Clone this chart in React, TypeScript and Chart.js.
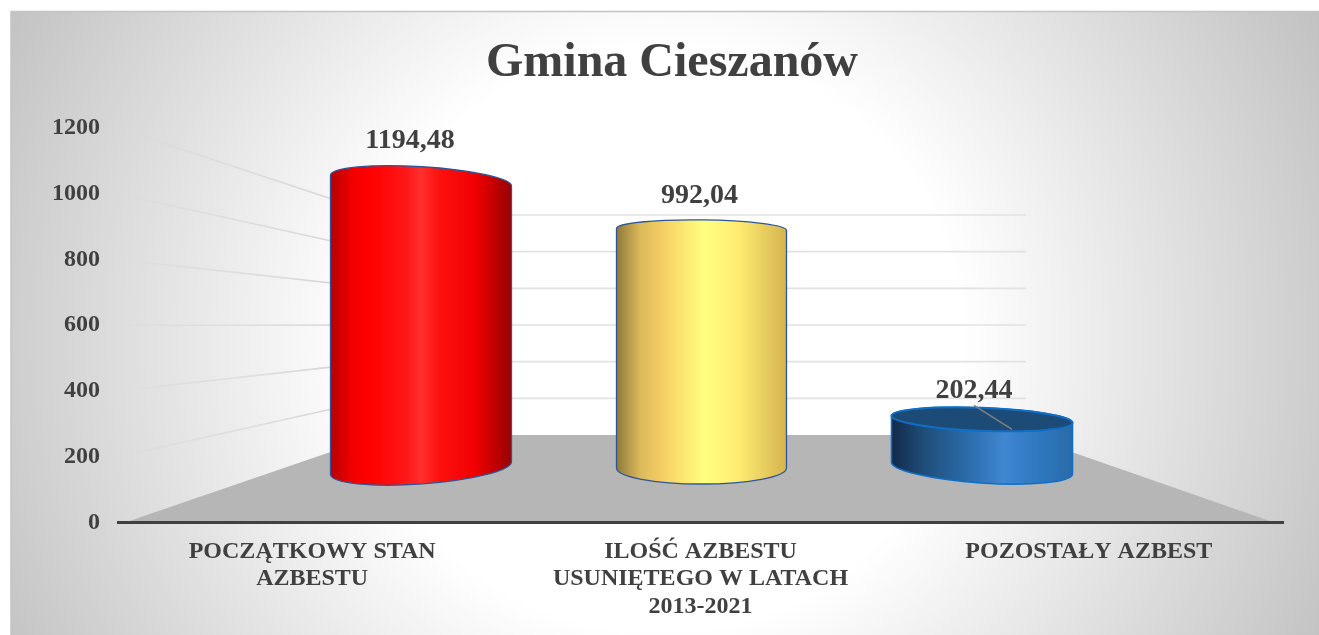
import React, { useEffect, useRef } from "react";
import { Chart, registerables } from "chart.js";

Chart.register(...registerables);

const title = "Gmina Cieszanów";
const categories = [
  ["POCZĄTKOWY STAN", "AZBESTU"],
  ["ILOŚĆ AZBESTU", "USUNIĘTEGO W LATACH", "2013-2021"],
  ["POZOSTAŁY AZBEST"],
];
const values = [1194.48, 992.04, 202.44];
const axisTicks = { min: 0, max: 1200, step: 200 };

// Cylinder styling
const halfWidths = [90.5, 85, 90.5];
const topTilt = [5.5, 1, 3.5];
const bottomTilt = [-6.5, 0, 6];
const topRy = [14, 9.5, 11.5];
const bottomRy = [16, 16, 15];
const outline = ["#2f5597", "#2f5597", "#0f6fc6"];
const baseColors = ["#ff0000", "#ffe870", "#2e75b6"];
const stops: [number, string][][] = [
  [[0, "#b80000"], [0.12, "#f00000"], [0.22, "#ff0000"], [0.42, "#ff1818"], [0.5, "#ff3030"], [0.6, "#ff1010"], [0.8, "#f00000"], [1, "#980000"]],
  [[0, "#8f7a3c"], [0.14, "#dcb95a"], [0.3, "#f8d466"], [0.52, "#ffff80"], [0.72, "#ffeb70"], [1, "#d4b450"]],
  [[0, "#11294a"], [0.18, "#1f4e79"], [0.42, "#2b6cab"], [0.62, "#3f87d0"], [0.82, "#2e78c0"], [1, "#2a6aa8"]],
];
const labelOffsets = [[-11, -39.5], [-2, -34], [-8, -29]];
const INK = "#404040";
const FONT = "'Liberation Serif', 'Times New Roman', serif";

const barGradient = (chart: any, i: number) => {
  const cx = chart.scales.x2?.getPixelForValue(i);
  if (!Number.isFinite(cx)) return baseColors[i];
  const g = chart.ctx.createLinearGradient(cx - halfWidths[i], 0, cx + halfWidths[i], 0);
  stops[i].forEach(([o, c]) => g.addColorStop(o, c));
  return g;
};

const silhouette = (ctx: CanvasRenderingContext2D, cx: number, top: number, base: number, i: number) => {
  const w = halfWidths[i];
  const a = Math.atan2(topTilt[i], w);
  const b = Math.atan2(bottomTilt[i], w);
  ctx.moveTo(cx - w, top - topTilt[i]);
  ctx.ellipse(cx, top, w / Math.cos(a), topRy[i], a, Math.PI, 2 * Math.PI);
  ctx.lineTo(cx + w, base + bottomTilt[i]);
  ctx.ellipse(cx, base, w / Math.cos(b), bottomRy[i], b, 0, Math.PI);
  ctx.closePath();
};

const scenePlugin = {
  id: "scene",
  beforeDraw(chart: any) {
    const { ctx, width, height, scales, chartArea } = chart;
    ctx.save();
    // panel
    ctx.fillStyle = "#ffffff";
    ctx.fillRect(0, 0, width, height);
    ctx.save();
    ctx.beginPath();
    ctx.rect(11, 11, width - 11, height - 11);
    ctx.clip();
    const rx = 700;
    const ry = 680;
    ctx.translate(660, 340);
    ctx.scale(rx, ry);
    const bg = ctx.createRadialGradient(0, 0, 0, 0, 0, 1.07);
    bg.addColorStop(0, "#ffffff");
    bg.addColorStop(0.4, "#ffffff");
    bg.addColorStop(1, "#c0c0c0");
    ctx.fillStyle = bg;
    ctx.fillRect(-2, -2, 4, 4);
    ctx.restore();
    ctx.strokeStyle = "#c4c4c4";
    ctx.lineWidth = 1.5;
    ctx.beginPath();
    ctx.moveTo(11, height);
    ctx.lineTo(11, 11.5);
    ctx.lineTo(width, 11.5);
    ctx.stroke();

    // 3D wall + floor
    const y = scales.y;
    const y0 = y.getPixelForValue(0);
    const backX0 = 380;
    const backX1 = 1026;
    const backY0 = 435;
    const backScale = 220 / (y0 - y.getPixelForValue(axisTicks.max));
    const backY = (v: number) => backY0 - (y0 - y.getPixelForValue(v)) * backScale;

    for (let v = axisTicks.step; v <= axisTicks.max; v += axisTicks.step) {
      const fade = ctx.createLinearGradient(chartArea.left, 0, 330, 0);
      fade.addColorStop(0, "rgba(215,215,215,0)");
      fade.addColorStop(0.25, "rgba(215,215,215,0.5)");
      fade.addColorStop(1, "rgba(215,215,215,1)");
      ctx.strokeStyle = fade;
      ctx.lineWidth = 1.6;
      ctx.beginPath();
      ctx.moveTo(chartArea.left, y.getPixelForValue(v));
      ctx.lineTo(backX0, backY(v));
      ctx.stroke();
      ctx.strokeStyle = "#e2e2e2";
      ctx.lineWidth = 1.6;
      ctx.beginPath();
      ctx.moveTo(backX0, backY(v));
      ctx.lineTo(backX1, backY(v));
      ctx.stroke();
    }
    ctx.fillStyle = "#b6b6b6";
    ctx.beginPath();
    ctx.moveTo(125, y0);
    ctx.lineTo(backX0, backY0);
    ctx.lineTo(1023, backY0);
    ctx.lineTo(1274, y0);
    ctx.closePath();
    ctx.fill();
    ctx.restore();
  },
  beforeDatasetDraw(chart: any) {
    const { ctx } = chart;
    const els = chart.getDatasetMeta(0).data;
    ctx.save();
    ctx.beginPath();
    els.forEach((el: any, i: number) => silhouette(ctx, el.x, el.y, el.base, i));
    ctx.clip();
  },
  afterDatasetDraw(chart: any) {
    const { ctx } = chart;
    ctx.restore();
    const els = chart.getDatasetMeta(0).data;
    els.forEach((el: any, i: number) => {
      ctx.save();
      ctx.beginPath();
      silhouette(ctx, el.x, el.y, el.base, i);
      ctx.fillStyle = barGradient(chart, i);
      ctx.fill();
      ctx.strokeStyle = outline[i];
      ctx.lineWidth = i === 2 ? 1.6 : 1.3;
      ctx.stroke();
      // top face visible only on the short cylinder (seen from above)
      if (i === 2) {
        const w = halfWidths[i];
        const a = Math.atan2(topTilt[i], w);
        ctx.beginPath();
        ctx.ellipse(el.x, el.y, w / Math.cos(a), topRy[i], a, 0, 2 * Math.PI);
        ctx.fillStyle = "#1c4b78";
        ctx.fill();
        ctx.strokeStyle = outline[i];
        ctx.lineWidth = 2;
        ctx.stroke();
        // leader line
        ctx.strokeStyle = "#7f7f7f";
        ctx.lineWidth = 1.5;
        ctx.beginPath();
        ctx.moveTo(el.x - 8, el.y - 14);
        ctx.lineTo(el.x + 30, el.y + 10);
        ctx.stroke();
      }
      ctx.restore();
      // data label
      ctx.save();
      ctx.fillStyle = INK;
      ctx.font = `bold 28px ${FONT}`;
      ctx.textAlign = "center";
      ctx.textBaseline = "middle";
      ctx.fillText(
        values[i].toFixed(2).replace(".", ","),
        el.x + labelOffsets[i][0],
        el.y + labelOffsets[i][1]
      );
      ctx.restore();
    });
  },
};

export default function App() {
  const ref = useRef<HTMLCanvasElement>(null);
  useEffect(() => {
    const chart = new Chart(ref.current as HTMLCanvasElement, {
      type: "bar",
      data: {
        labels: categories as any,
        datasets: [
          {
            data: values.map((v, i) => ({ x: i, y: v })) as any,
            xAxisID: "x2",
            yAxisID: "y1",
            barThickness: 181,
            borderWidth: 0,
            backgroundColor: (c: any) =>
              c.type === "data" ? barGradient(c.chart, c.dataIndex) : "#000",
          },
        ],
      },
      options: {
        animation: false,
        responsive: false,
        devicePixelRatio: 1,
        layout: { padding: { left: 25, right: 0, top: 0, bottom: 0 } },
        plugins: {
          legend: { display: false },
          tooltip: { enabled: false },
          title: {
            display: true,
            text: title,
            color: INK,
            font: { family: FONT, size: 48, weight: "bold", lineHeight: 1 },
            padding: { top: 40, bottom: 40 },
          },
        },
        scales: {
          x: {
            type: "category",
            grid: { display: false, drawTicks: false },
            border: { display: true, color: INK, width: 3 },
            ticks: {
              color: INK,
              autoSkip: false,
              maxRotation: 0,
              minRotation: 0,
              padding: 15,
              font: { family: FONT, size: 24, weight: "bold", lineHeight: 1.15 },
            },
            afterFit: (s: any) => { s.height = 112.5; },
          },
          y: {
            type: "linear",
            min: axisTicks.min,
            max: axisTicks.max,
            grid: { display: false, drawTicks: false },
            border: { display: false },
            ticks: {
              stepSize: axisTicks.step,
              color: INK,
              padding: 18,
              font: { family: FONT, size: 24, weight: "bold" },
              callback: (v: any) => String(v),
            },
            afterFit: (s: any) => { s.width = 93; },
          },
          x2: {
            type: "linear",
            display: false,
            offset: false,
            min: -1.0802,
            max: 3.0731,
            grid: { display: false },
          },
          y1: {
            type: "linear",
            position: "right",
            display: true,
            min: -226.6,
            max: 1413.7,
            grid: { display: false, drawTicks: false },
            border: { display: false },
            ticks: { display: false },
            afterFit: (s: any) => { s.width = 36; },
          },
        },
      } as any,
      plugins: [scenePlugin],
    });
    return () => chart.destroy();
  }, []);
  return (
    <canvas
      ref={ref}
      width={1319}
      height={635}
      style={{ position: "absolute", left: 0, top: 0, display: "block" }}
    />
  );
}
